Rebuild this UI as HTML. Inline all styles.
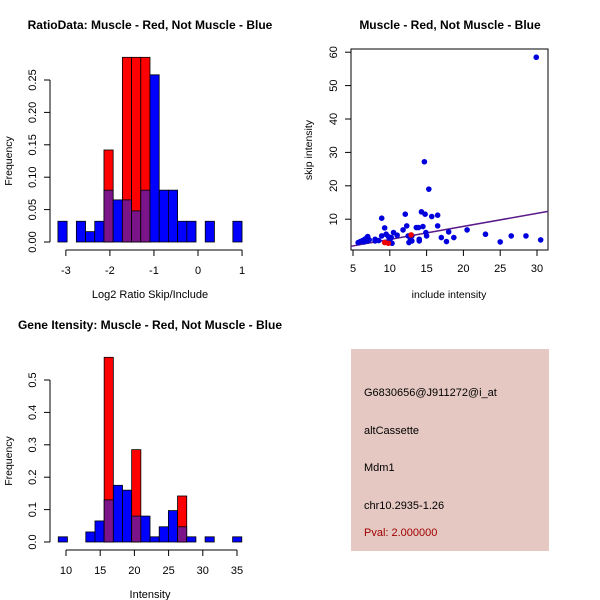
<!DOCTYPE html>
<html><head><meta charset="utf-8"><style>
body{margin:0;background:#fff}
svg{display:block;font-family:"Liberation Sans",Arial,sans-serif}
</style></head><body>
<svg id="s" width="600" height="600" viewBox="0 0 600 600">
<rect x="0" y="0" width="600" height="600" fill="#fff"/>
<text x="150" y="29" text-anchor="middle" font-size="12" font-weight="bold">RatioData: Muscle - Red, Not Muscle - Blue</text>
<text x="450" y="29" text-anchor="middle" font-size="12" font-weight="bold">Muscle - Red, Not Muscle - Blue</text>
<text x="150" y="329" text-anchor="middle" font-size="12" font-weight="bold">Gene Itensity: Muscle - Red, Not Muscle - Blue</text>
<g id="g1"></g>
<g id="g2"></g>
<g id="g3"></g>
<g>
<rect x="351" y="349" width="198" height="202" fill="#e5c8c2"/>
<text x="364" y="396" font-size="11">G6830656@J911272@i_at</text>
<text x="364" y="434" font-size="11">altCassette</text>
<text x="364" y="471" font-size="11">Mdm1</text>
<text x="364" y="509" font-size="11">chr10.2935-1.26</text>
<text x="364" y="536" font-size="11" fill="#a00000">Pval: 2.000000</text>
</g>
</svg>
<script>
// Ratio histogram data
const ratioBlue=[0.032,0,0.032,0.016,0.032,0.08,0.065,0.065,0.048,0.08,0.258,0.08,0.08,0.032,0.032,0,0.032,0,0,0.032];
const ratioRed=[0,0,0,0,0,0.142,0,0.285,0.285,0.285,0,0,0,0,0,0,0,0,0,0];
const ratioXTicks=[-3,-2,-1,0,1];
const ratioYTicks=["0.00","0.05","0.10","0.15","0.20","0.25"];
// Intensity histogram data
const intBlue=[0.016,0,0,0.031,0.065,0.13,0.175,0.16,0.08,0.08,0.016,0.047,0.097,0.047,0.016,0,0.016,0,0,0.016];
const intRed=[0,0,0,0,0,0.57,0,0,0.285,0,0,0,0,0.142,0,0,0,0,0,0];
const intXTicks=[10,15,20,25,30,35];
const intYTicks=["0.0","0.1","0.2","0.3","0.4","0.5"];
// Scatter data
const incBlue=[5.7,6,6.3,6.6,6.9,7,7,6.5,7.2,8,8,8.5,8.9,8.9,9.3,9.5,9.8,10,10.3,10.5,10.2,11,11.8,12.1,12.3,12.5,12.6,12.8,13,13,13.6,13.9,14,14,14.3,14.5,14.7,14.8,14.9,15,15.3,15.7,16.5,16.5,17,17.7,18,18.7,20.5,23,25,26.5,28.5,29.9,30.5];
const skipBlue=[3,3.3,3.6,4,4.5,3.5,4.8,3.2,3.8,3.5,4,3.6,10.3,5,7.4,5.5,4.8,3.5,2.8,6,4.5,5.2,6.8,11.5,8,5,3,4,3.5,5,7.5,7.5,3.5,4,12.2,7.8,27.2,11.5,6,5,19,10.8,11.2,8,4.5,3.3,6.2,4.5,6.8,5.5,3.2,5,5,58.5,3.8];
const incRed=[9.3,9.8,12.9];
const skipRed=[3,2.8,5.3];
const fitLine=[0.05,0.39];
const scXTicks=[5,10,15,20,25,30];
const scYTicks=[10,20,30,40,50,60];

const NS="http://www.w3.org/2000/svg";
function mk(p,tag,a){const e=document.createElementNS(NS,tag);for(const k in a)e.setAttribute(k,a[k]);p.appendChild(e);return e;}

function hist(g,blue,red,x0,bw,xs,ys,xt,yt,ymax,xlab,ylab,axY,yAxX){
  for(let i=0;i<blue.length;i++){
    const xa=xs(x0+i*bw),xb=xs(x0+(i+1)*bw);
    if(red[i]>0){const r=mk(g,'rect',{x:xa,y:ys(red[i]),width:xb-xa,height:ys(0)-ys(red[i]),fill:'#ff0000',stroke:'#000','stroke-width':0.8});
      
      }
    if(blue[i]>0){const ov=red[i]>0;const r=mk(g,'rect',{x:xa,y:ys(blue[i]),width:xb-xa,height:ys(0)-ys(blue[i]),fill:ov?'#7a1488':'#0000ff',stroke:'#000','stroke-width':0.8});
      
      }
  }
  mk(g,'line',{x1:xs(xt[0]),x2:xs(xt[xt.length-1]),y1:axY,y2:axY,stroke:'#000'});
  xt.forEach(v=>{mk(g,'line',{x1:xs(v),x2:xs(v),y1:axY,y2:axY+6,stroke:'#000'});
    const t=mk(g,'text',{x:xs(v),y:axY+24,'text-anchor':'middle','font-size':11});t.textContent=v;
    
    });
  mk(g,'line',{x1:yAxX,x2:yAxX,y1:ys(0),y2:ys(ymax),stroke:'#000'});
  yt.forEach(s=>{const v=parseFloat(s);const y=ys(v);mk(g,'line',{x1:yAxX-6,x2:yAxX,y1:y,y2:y,stroke:'#000'});
    const t=mk(g,'text',{x:yAxX-14,y:y,'text-anchor':'middle','font-size':11,transform:`rotate(-90 ${yAxX-14} ${y})`});t.textContent=s;
    
    });
  const xl=mk(g,'text',{x:150,y:axY+48,'text-anchor':'middle','font-size':11});xl.textContent=xlab;
  
  
  const cy=(ys(0)+ys(ymax))/2;
  const yl=mk(g,'text',{x:12,y:cy,'text-anchor':'middle','font-size':10.5,transform:`rotate(-90 12 ${cy})`});yl.textContent=ylab;
  
  
}
// ratio
{const xs=v=>198+v*44.05, ys=v=>242-v*648;
 hist(document.getElementById('g1'),ratioBlue,ratioRed,-3.18,4.18/20,xs,ys,ratioXTicks,ratioYTicks,0.25,'Log2 Ratio Skip/Include','Frequency',250,50);}
// intensity
{const xs=v=>66+(v-10)*6.84, ys=v=>542-v*324;
 hist(document.getElementById('g2'),intBlue,intRed,8.87,(35.7-8.87)/20,xs,ys,intXTicks,intYTicks,0.5,'Intensity','Frequency',550,50);}
// scatter
{const g=document.getElementById('g3');
 const xs=v=>353+(v-5)*7.36, ys=v=>252.6-v*3.34;
 mk(g,'rect',{x:351,y:49,width:197,height:201,fill:'none',stroke:'#000'});
 const x1=5-0.3,x2=31.5;
 const ln=mk(g,'line',{x1:xs(x1),y1:ys(fitLine[0]+fitLine[1]*x1),x2:xs(x2),y2:ys(fitLine[0]+fitLine[1]*x2),stroke:'#5a1a8a','stroke-width':1.5});
 
 
 incBlue.forEach((v,i)=>{const c=mk(g,'circle',{cx:xs(v),cy:ys(skipBlue[i]),r:2.8,fill:'#0000dd'});
   
   });
 incRed.forEach((v,i)=>{const c=mk(g,'circle',{cx:xs(v),cy:ys(skipRed[i]),r:2.8,fill:'#ee0000'});
   
   });
 const axY=250;
 scXTicks.forEach(v=>{mk(g,'line',{x1:xs(v),x2:xs(v),y1:axY,y2:axY+6,stroke:'#000'});
   const t=mk(g,'text',{x:xs(v),y:axY+22,'text-anchor':'middle','font-size':11});t.textContent=v;
   
   });
 scYTicks.forEach(v=>{const y=ys(v);mk(g,'line',{x1:345,x2:351,y1:y,y2:y,stroke:'#000'});
   const t=mk(g,'text',{x:337,y:y,'text-anchor':'middle','font-size':11,transform:`rotate(-90 337 ${y})`});t.textContent=v;
   
   });
 const xl=mk(g,'text',{x:449,y:298,'text-anchor':'middle','font-size':10.5});xl.textContent='include intensity';
 
 
 const yl=mk(g,'text',{x:312,y:150,'text-anchor':'middle','font-size':10.5,transform:'rotate(-90 312 150)'});yl.textContent='skip intensity';
 
 
}
</script>
</body></html>
